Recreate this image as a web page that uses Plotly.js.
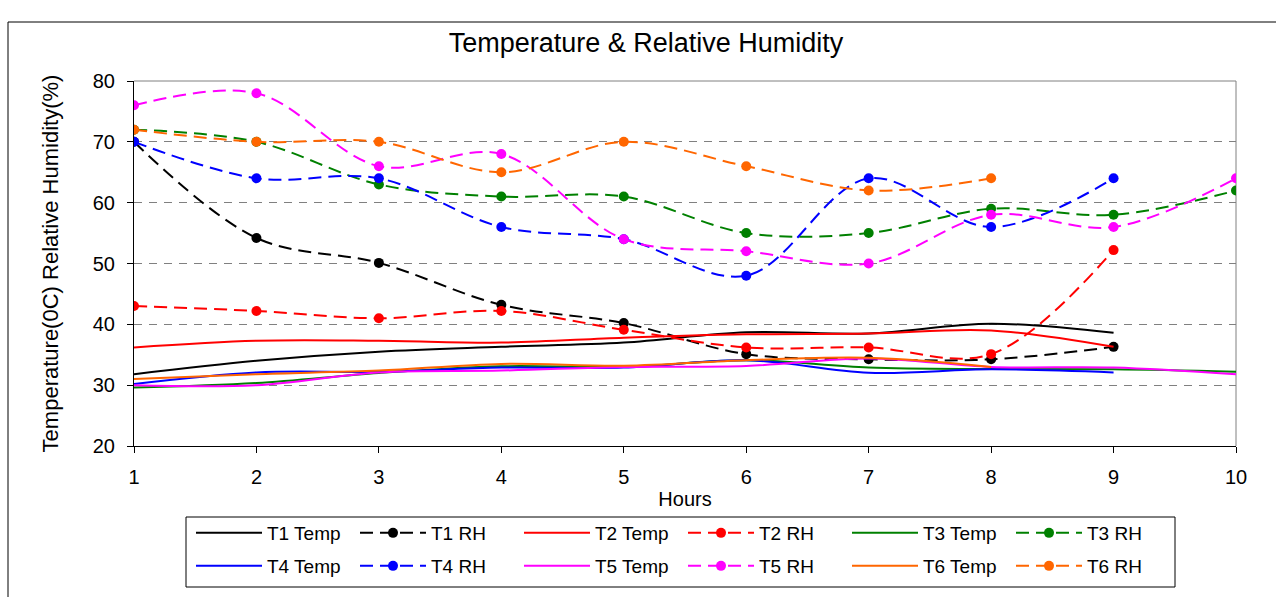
<!DOCTYPE html>
<html>
<head>
<meta charset="utf-8">
<script src="https://cdn.plot.ly/plotly-3.0.1.min.js"></script>
<style>
  html, body { margin: 0; padding: 0; background: #fff; }
  #chart { width: 1276px; height: 597px; }
</style>
</head>
<body>
<div id="chart"></div>
<script>
// ---- data ----
var hours = [1, 2, 3, 4, 5, 6, 7, 8, 9, 10];
var xTickLabels = ['1', '2', '3', '4', '5', '6', '7', '8', '9', '10'];

var t1Temp = [31.8, 34.0, 35.5, 36.3, 37.0, 38.7, 38.5, 40.1, 38.6];
var t1RH   = [70, 54.2, 50.1, 43.2, 40.2, 35.1, 34.25, 34.25, 36.3];
var t2Temp = [36.2, 37.3, 37.3, 37.0, 37.8, 38.35, 38.5, 39.0, 36.3];
var t2RH   = [43, 42.2, 41.0, 42.2, 39.1, 36.2, 36.2, 35.1, 52.2];
var t3Temp = [29.6, 30.35, 32.0, 33.1, 33.0, 34.1, 32.9, 32.65, 32.6, 32.2];
var t3RH   = [72, 70, 63, 61, 61, 55, 55, 59, 58, 62];
var t4Temp = [30.2, 32.1, 32.2, 32.9, 32.9, 34.1, 32.05, 32.6, 32.1];
var t4RH   = [70, 64, 64, 56, 54, 48, 64, 56, 64];
var t5Temp = [30.0, 30.0, 32.1, 32.4, 33.0, 33.15, 34.4, 33.0, 32.9, 31.8];
var t5RH   = [76, 78, 66, 68, 54, 52, 50, 58, 56, 64];
var t6Temp = [31.0, 31.8, 32.4, 33.5, 33.2, 34.1, 34.5, 33.0];
var t6RH   = [72, 70, 70, 65, 70, 66, 62, 64];

var seriesNames = ['T1 Temp', 'T1 RH', 'T2 Temp', 'T2 RH', 'T3 Temp', 'T3 RH',
                   'T4 Temp', 'T4 RH', 'T5 Temp', 'T5 RH', 'T6 Temp', 'T6 RH'];
var seriesValues = [t1Temp, t1RH, t2Temp, t2RH, t3Temp, t3RH,
                    t4Temp, t4RH, t5Temp, t5RH, t6Temp, t6RH];
var sensorColors = ['#000000', '#FF0000', '#008000', '#0000FF', '#FF00FF', '#FF6600'];

// ---- traces ----
var FONT = 'Liberation Sans, Arial, Helvetica, sans-serif';
var traces = seriesValues.map(function (vals, i) {
  var sensor = Math.floor(i / 2);
  var isRH = (i % 2) === 1;
  var tr = {
    type: 'scatter',
    name: seriesNames[i],
    x: hours.slice(0, vals.length),
    y: vals,
    legend: sensor < 3 ? 'legend' : 'legend2',
    hoverinfo: 'skip',
    line: { color: sensorColors[sensor], width: 2, shape: 'spline', smoothing: 1 }
  };
  if (isRH) {
    tr.mode = 'lines+markers';
    tr.line.dash = '13px,7px';
    tr.marker = { symbol: 'circle', size: 10, color: sensorColors[sensor] };
  } else {
    tr.mode = 'lines';
  }
  return tr;
});

// ---- geometry helpers (plot area 134..1236 x 81..446) ----
var L = 134, R = 40, T = 81, B = 151, W = 1276, H = 597;
var PW = W - L - R, PH = H - T - B;
function px(x) { return (x - L) / PW; }
function py(y) { return (T + PH - y) / PH; }

var legendCommon = {
  orientation: 'h',
  xanchor: 'left',
  yanchor: 'middle',
  x: px(191),
  bgcolor: 'rgba(0,0,0,0)',
  borderwidth: 0,
  font: { family: FONT, size: 19, color: '#000' },
  itemwidth: 66,
  entrywidth: 83,
  entrywidthmode: 'pixels',
  traceorder: 'normal',
  itemclick: false,
  itemdoubleclick: false
};

var layout = {
  width: W, height: H,
  margin: { l: L, r: R, t: T, b: B, pad: 0 },
  paper_bgcolor: '#ffffff',
  plot_bgcolor: '#ffffff',
  font: { family: FONT, color: '#000', size: 20 },
  showlegend: true,
  title: {
    text: 'Temperature & Relative Humidity',
    font: { family: FONT, size: 27, color: '#000' },
    x: 646 / W, xanchor: 'center', xref: 'container',
    y: 1 - 43 / H, yanchor: 'middle', yref: 'container'
  },
  xaxis: {
    range: [1, 10],
    tickmode: 'array',
    tickvals: hours,
    ticktext: xTickLabels,
    showgrid: false,
    zeroline: false,
    showline: true,
    linecolor: '#000', linewidth: 1,
    ticks: 'outside', ticklen: 6, tickcolor: '#000', tickwidth: 1,
    ticklabelstandoff: 7,
    tickfont: { family: FONT, size: 20, color: '#000' },
    title: { text: 'Hours', font: { family: FONT, size: 20, color: '#000' }, standoff: 4 },
    fixedrange: true
  },
  yaxis: {
    range: [20, 80],
    tick0: 20, dtick: 10,
    showgrid: true, gridcolor: '#808080', gridwidth: 1, griddash: '8px,7px',
    zeroline: false,
    showline: true,
    linecolor: '#000', linewidth: 1,
    ticks: 'outside', ticklen: 6, tickcolor: '#000', tickwidth: 1,
    ticklabelstandoff: 8,
    tickfont: { family: FONT, size: 20, color: '#000' },
    title: { text: 'Temperature(0C) Relative Humidity(%)', font: { family: FONT, size: 22, color: '#000' }, standoff: 28 },
    fixedrange: true
  },
  legend: Object.assign({}, legendCommon, { y: py(533) }),
  legend2: Object.assign({}, legendCommon, { y: py(566) }),
  shapes: [
    // top and right frame of the plot area (grey)
    { type: 'line', xref: 'paper', yref: 'paper', x0: 0, x1: 1, y0: 1, y1: 1,
      line: { color: '#808080', width: 1 }, layer: 'between' },
    { type: 'line', xref: 'paper', yref: 'paper', x0: 1, x1: 1, y0: 0, y1: 1,
      line: { color: '#808080', width: 1 }, layer: 'between' },
    // legend box
    { type: 'rect', xref: 'paper', yref: 'paper',
      x0: px(186), x1: px(1175), y0: py(517), y1: py(587),
      line: { color: '#000', width: 1 }, fillcolor: 'rgba(0,0,0,0)', layer: 'below' },
    // outer chart border
    { type: 'rect', xref: 'paper', yref: 'paper',
      x0: px(8), x1: px(1300), y0: py(22), y1: py(640),
      line: { color: '#000', width: 1 }, fillcolor: 'rgba(0,0,0,0)', layer: 'below' }
  ]
};

Plotly.newPlot('chart', traces, layout, { displayModeBar: false, staticPlot: true, responsive: false });
</script>
</body>
</html>
